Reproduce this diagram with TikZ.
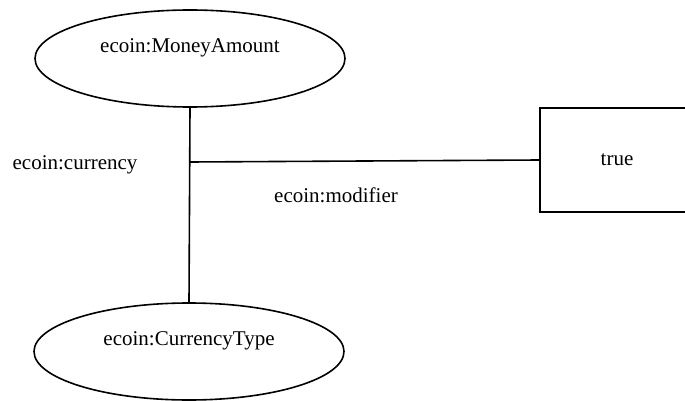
\documentclass[tikz,border=0pt]{standalone}
\usepackage{fontspec}
\setmainfont{Liberation Serif}
\usetikzlibrary{shapes.geometric}

\begin{document}
\begin{tikzpicture}[
  x=1pt, y=-1pt,
  font=\fontsize{21}{25}\selectfont,
  class/.style={
    draw=black,
    ellipse,
    line width=1.6pt,
    minimum width=310pt,
    minimum height=97pt,
    inner sep=0pt,
    text depth=25pt
  },
  literal/.style={
    draw=black,
    rectangle,
    line width=1.6pt,
    minimum width=154pt,
    minimum height=104pt,
    inner sep=0pt
  },
  edge/.style={draw=black, line width=1.6pt},
  prop/.style={inner sep=0pt}
]
\useasboundingbox (0,0) rectangle (685,401);

% classes and the literal value
\node[class]   (money)   at (190, 58.5) {ecoin:MoneyAmount};
\node[class]   (ctype)   at (189, 351.5) {ecoin:CurrencyType};
\node[literal] (trueval) at (617, 160) {true};

% joint on the currency edge
\coordinate (junc) at (190, 162);

\draw[edge] (money.south) -- (ctype.north);
\draw[edge] (junc) -- (trueval.west);

% property labels
\node[prop] (currency) at (75, 165) {ecoin:currency};
\node[prop] (modifier) at (336, 195) {ecoin:modifier};

\end{tikzpicture}
\end{document}
